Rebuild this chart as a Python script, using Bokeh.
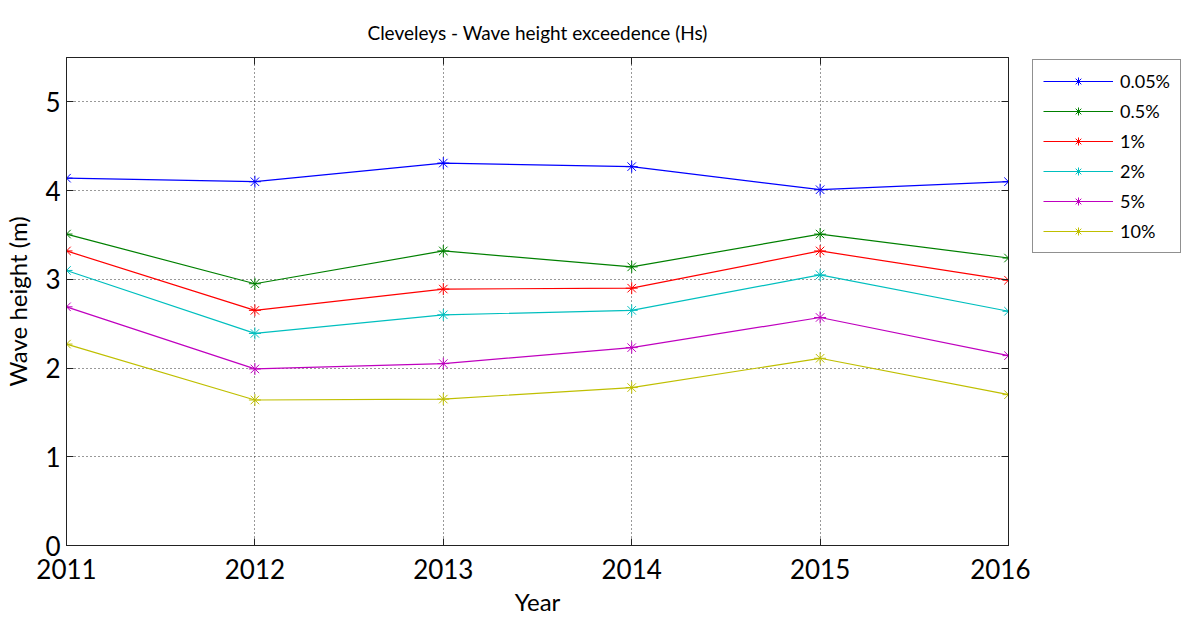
from bokeh.plotting import figure
from bokeh.layouts import row
from bokeh.models import Legend, LegendItem, LinearAxis, FixedTicker, Range1d, CustomJSTickFormatter
from bokeh.embed import file_html
from bokeh.resources import INLINE

years = [2011, 2012, 2013, 2014, 2015, 2016]
series_names = ["0.05%", "0.5%", "1%", "2%", "5%", "10%"]
s_005 = [4.14, 4.10, 4.31, 4.27, 4.01, 4.10]
s_05 = [3.51, 2.95, 3.32, 3.14, 3.51, 3.24]
s_1 = [3.32, 2.65, 2.89, 2.90, 3.32, 2.99]
s_2 = [3.10, 2.39, 2.60, 2.65, 3.05, 2.64]
s_5 = [2.69, 1.99, 2.05, 2.23, 2.57, 2.14]
s_10 = [2.27, 1.64, 1.65, 1.78, 2.11, 1.70]
series_values = [s_005, s_05, s_1, s_2, s_5, s_10]
colors = ["#0000ff", "#008000", "#ff0000", "#00bfbf", "#bf00bf", "#bfbf00"]
y_ticks = [0, 1, 2, 3, 4, 5]

FONT = "Lato"

p = figure(width=1030, height=619, output_backend="svg", toolbar_location=None,
           x_range=Range1d(2011, 2016), y_range=Range1d(0, 5.5),
           min_border_left=64, min_border_right=22, min_border_top=57, min_border_bottom=74,
           title="Cleveleys - Wave height exceedence (Hs)")
p.title.align = "center"
p.title.text_font = FONT
p.title.text_font_size = "19px"
p.title.text_font_style = "normal"
p.title.text_color = "black"
p.title.standoff = 28
p.background_fill_color = "white"
p.border_fill_color = "white"
p.outline_line_color = "#222222"
p.outline_line_width = 1

for vals, c in zip(series_values, colors):
    p.line(years, vals, line_color=c, line_width=1.2)
    p.scatter(years, vals, marker="asterisk", size=12, line_color=c, line_width=1)

for ax in [p.xaxis[0], p.yaxis[0]]:
    ax.major_tick_in = 7
    ax.major_tick_out = 0
    ax.minor_tick_line_color = None
    ax.axis_line_color = "#222222"
    ax.major_tick_line_color = "#222222"
    ax.major_label_text_font = FONT
    ax.major_label_text_font_size = "26px"
    ax.major_label_text_color = "black"
    ax.axis_label_text_font = FONT
    ax.axis_label_text_font_size = "24px"
    ax.axis_label_text_font_style = "normal"
    ax.axis_label_text_color = "black"

p.xaxis[0].ticker = FixedTicker(ticks=years)
p.yaxis[0].ticker = FixedTicker(ticks=y_ticks)
p.xaxis[0].axis_label = "Year"
p.yaxis[0].axis_label = "Wave height (m)"
p.xaxis[0].major_label_standoff = 13
p.yaxis[0].major_label_standoff = 6
p.xaxis[0].axis_label_standoff = 5
p.yaxis[0].axis_label_standoff = 10

blank = CustomJSTickFormatter(code="return ''")
for loc, tk in [("right", y_ticks), ("above", years)]:
    ax = LinearAxis(ticker=FixedTicker(ticks=tk), formatter=blank,
                    major_tick_in=7, major_tick_out=0, minor_tick_line_color=None,
                    axis_line_color="#222222", major_tick_line_color="#222222")
    ax.major_label_standoff = 0
    p.add_layout(ax, loc)

p.xgrid.ticker = FixedTicker(ticks=years)
p.ygrid.ticker = FixedTicker(ticks=y_ticks)
for g in [p.xgrid[0], p.ygrid[0]]:
    g.grid_line_color = "#333333"
    g.grid_line_dash = "1 3"
    g.grid_line_width = 1

# legend panel: a second figure beside the chart (its frame is aligned with the chart's frame)
pl = figure(width=152, height=619, output_backend="svg", toolbar_location=None,
            x_axis_location=None, y_axis_location=None, min_border=0,
            x_range=Range1d(0, 1), y_range=Range1d(0, 1))
pl.outline_line_color = None
pl.border_fill_color = "white"
pl.xgrid.visible = False
pl.ygrid.visible = False
items = []
for name, c in zip(series_names, colors):
    r1 = pl.line([5, 6], [5, 6], line_color=c, line_width=1.2)
    r2 = pl.scatter([5], [5], marker="asterisk", size=12, line_color=c, line_width=1)
    items.append(LegendItem(label=name, renderers=[r1, r2]))

legend = Legend(items=items, location=(2, 292))
legend.margin = 0
legend.padding = 10
legend.spacing = 8
legend.glyph_width = 70
legend.glyph_height = 20
legend.label_height = 20
legend.label_standoff = 7
legend.label_text_font = FONT
legend.label_text_font_size = "18px"
legend.label_text_color = "black"
legend.border_line_color = "#222222"
legend.border_line_width = 1
legend.background_fill_color = "white"
pl.add_layout(legend, "center")

layout = row(p, pl)
open("out.html", "w").write(file_html(layout, INLINE))
